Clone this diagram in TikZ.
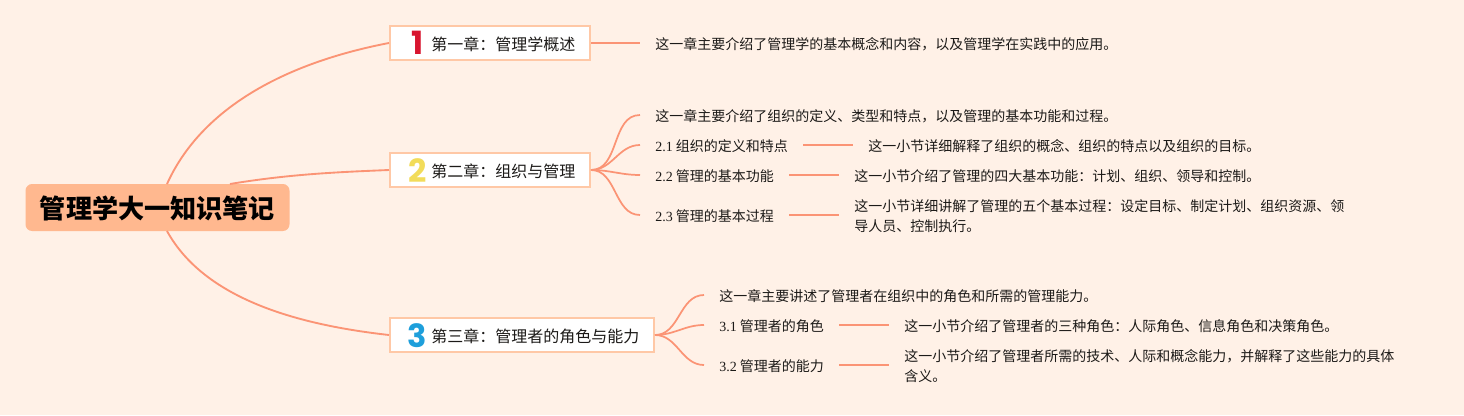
\documentclass[tikz,border=0pt]{standalone}
\usepackage{fontspec}
\setmainfont{Noto Sans CJK SC}
\newfontfamily\numfont{Liberation Serif}
\newfontfamily\digitfont{Poppins}
\usetikzlibrary{positioning}
\definecolor{paper}{HTML}{FFF1E7}
\definecolor{link}{HTML}{FB9475}
\definecolor{rootfill}{HTML}{FFB88F}
\definecolor{boxline}{HTML}{FFC8A6}
\definecolor{ink}{HTML}{1C1A18}
\definecolor{digitred}{HTML}{D8152F}
\definecolor{digityellow}{HTML}{F2DC5A}
\definecolor{digitblue}{HTML}{1E9FDB}
\newcommand{\chtext}[1]{\hspace*{31pt}#1\hspace*{11pt}}
\newcommand{\cn}{\char"FF1A\relax}
\newcommand{\cm}{\char"FF0C\relax}

\begin{document}
\begin{tikzpicture}[x=0.75pt, y=-0.75pt, node distance=37.5pt]

% root style
\tikzstyle{rt} = [
    fill = rootfill,
    rectangle,
    rounded corners = 5pt,
    minimum height = 35.25pt,
    minimum width = 198pt,
    inner sep = 0pt,
    text = black,
    text height = 18pt,
    text depth = 2pt,
    font = \fontsize{19.6}{22}\selectfont\bfseries
]

% chapter style
\tikzstyle{ch} = [
    draw = boxline,
    line width = 1.5pt,
    fill = white,
    rectangle,
    minimum height = 25.5pt,
    inner sep = 0pt,
    text height = 11.5pt,
    text depth = 1pt,
    text = ink,
    anchor = west,
    font = \fontsize{12}{14}\selectfont
]

% digit style
\tikzstyle{dg} = [
    inner sep = 0pt,
    font = \digitfont\fontsize{24}{24}\selectfont\bfseries
]

% text style
\tikzstyle{tx} = [
    rectangle,
    inner xsep = 11.25pt,
    inner ysep = 0pt,
    text height = 10.5pt,
    text depth = 1pt,
    text = ink,
    font = \fontsize{10.5}{15}\selectfont
]

% connector styles
\tikzstyle{lk} = [draw = link, line width = 1.4pt]
\tikzstyle{br} = [draw = link, line width = 1.3pt]

% Fix the page.
\fill [paper] (0,0) rectangle (1464,415);
\useasboundingbox (0,0) rectangle (1464,415);

% Place the nodes.
\node [rt] (root) at (157.5,207.5) {管理学大一知识笔记};

\node [ch] (ch1) at (389,43) {\chtext{第一章\cn 管理学概述}};
\node [ch] (ch2) at (389,170) {\chtext{第二章\cn 组织与管理}};
\node [ch] (ch3) at (389,335) {\chtext{第三章\cn 管理者的角色与能力}};

\node [dg, text=digitred] (one) at (417.5,43) {1};
\node [dg, text=digityellow] (two) at (417.5,171) {2};
\node [dg, text=digitblue] (three) at (417,336) {3};

% chapter one
\node [tx, anchor=west] (intro1) at (640,43) {这一章主要介绍了管理学的基本概念和内容\cm 以及管理学在实践中的应用。};

% chapter two
\node [tx, anchor=west] (intro2) at (640,115) {这一章主要介绍了组织的定义、类型和特点\cm 以及管理的基本功能和过程。};
\node [tx, anchor=west] (sec21) at (640,145) {{\numfont 2.1} 组织的定义和特点};
\node [tx, anchor=west] (sec22) at (640,175) {{\numfont 2.2} 管理的基本功能};
\node [tx, anchor=west] (sec23) at (640,215) {{\numfont 2.3} 管理的基本过程};
\node [tx, right=of sec21] (leaf21) {这一小节详细解释了组织的概念、组织的特点以及组织的目标。};
\node [tx, right=of sec22] (leaf22) {这一小节介绍了管理的四大基本功能\cn 计划、组织、领导和控制。};
\node [tx, right=of sec23, yshift=-0.75pt, text height=, text depth=, align=left] (leaf23) {这一小节详细讲解了管理的五个基本过程\cn 设定目标、制定计划、组织资源、领\\导人员、控制执行。};

% chapter three
\node [tx, anchor=west] (intro3) at (704,295) {这一章主要讲述了管理者在组织中的角色和所需的管理能力。};
\node [tx, anchor=west] (sec31) at (704,325) {{\numfont 3.1} 管理者的角色};
\node [tx, anchor=west] (sec32) at (704,365) {{\numfont 3.2} 管理者的能力};
\node [tx, right=of sec31] (leaf31) {这一小节介绍了管理者的三种角色\cn 人际角色、信息角色和决策角色。};
\node [tx, right=of sec32, yshift=-0.75pt, text height=, text depth=, align=left] (leaf32) {这一小节介绍了管理者所需的技术、人际和概念能力\cm 并解释了这些能力的具体\\含义。};

% Connect the nodes.
\coordinate (root-a) at (167,184);
\coordinate (root-b) at (230,184);
\coordinate (root-c) at (167,231);
\draw [lk] (root-a) .. controls (205,100) and (300,60) .. (ch1.west);
\draw [lk] (root-b) .. controls (290,174) and (340,172) .. (ch2.west);
\draw [lk] (root-c) .. controls (205,300) and (300,325) .. (ch3.west);

\draw [br] (ch1.east) -- (intro1.west);

\draw [br] (ch2.east) to [out=0, in=180] (intro2.west);
\draw [br] (ch2.east) to [out=0, in=180] (sec21.west);
\draw [br] (ch2.east) to [out=0, in=180] (sec22.west);
\draw [br] (ch2.east) to [out=0, in=180] (sec23.west);
\draw [br] (sec21) -- (leaf21);
\draw [br] (sec22) -- (leaf22);
\draw [br] (sec23.east) -- (sec23.east -| leaf23.west);

\draw [br] (ch3.east) to [out=0, in=180] (intro3.west);
\draw [br] (ch3.east) to [out=0, in=180] (sec31.west);
\draw [br] (ch3.east) to [out=0, in=180] (sec32.west);
\draw [br] (sec31) -- (leaf31);
\draw [br] (sec32.east) -- (sec32.east -| leaf32.west);

\end{tikzpicture}
\end{document}
